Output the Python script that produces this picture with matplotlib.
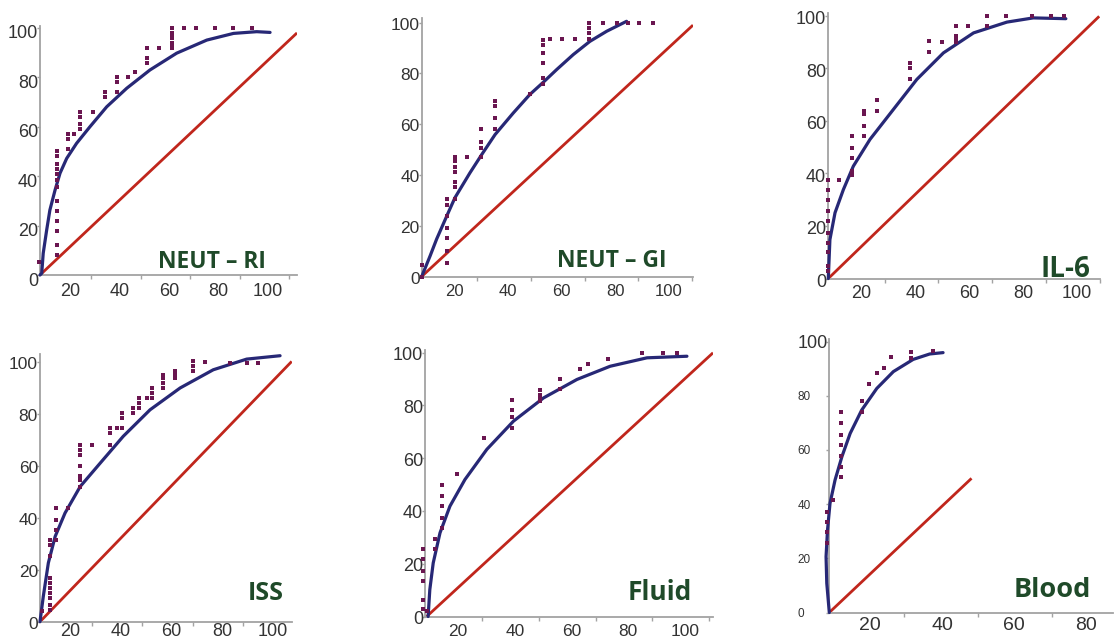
import matplotlib.pyplot as plt
import matplotlib.transforms as mtransforms

W, H = 1115, 642

# ---- data ----
titles = ["NEUT \u2013 RI", "NEUT \u2013 GI", "IL-6", "ISS", "Fluid", "Blood"]

# NEUT - RI
p1_dot_x = [7.3] + [14.4] * 13 + [19] * 3 + [21.5] + [24] * 4 + [29] + [34] * 2 + [39] * 3 + [43.5, 46] \
    + [51] * 3 + [56] + [61] * 7 + [66, 71, 78.5, 86, 93.5]
p1_dot_y = [5.3, 50, 48, 45, 43, 41, 38.5, 35.6, 30, 26, 22, 18, 12, 8, 57, 55, 51, 57, 66, 64, 61, 59, 66,
            74, 72, 80, 78, 74, 80, 82, 92, 88, 86, 92, 100, 98, 97, 96, 94, 93, 92, 100, 100, 100, 100, 100]
p1_fit_x = [7.7, 8.4, 9.0, 10.4, 11.7, 13.8, 15.8, 18.5, 22.5, 27.9, 34.7, 42.8, 52.2, 63, 75.2, 86, 95.4, 100.8]
p1_fit_y = [0, 0.7, 8.8, 18.2, 26.3, 34.4, 41.2, 47.2, 53.3, 60, 68.1, 75.6, 83, 89.8, 95.1, 97.8, 98.5, 98.2]
p1_ref_x = [7.7, 111.7]
p1_ref_y = [0, 98]

# NEUT - GI
p2_dot_x = [7.7, 7.7] + [17.3] * 7 + [20] * 7 + [24.6] + [30] * 4 + [35] * 4 + [48] + [53] * 6 \
    + [55.6, 60, 65] + [70] * 4 + [75.4, 80.6, 84.7, 89, 94]
p2_dot_y = [4.4, 0, 5.4, 10, 15, 19, 24, 28, 30.6, 30.7, 35.4, 37.4, 41, 43.3, 45.3, 46.9, 46.9,
            46.9, 50.8, 53, 58, 58, 62.6, 67, 69, 72, 76, 78, 84, 88, 91, 93, 93.7, 93.7, 93.7,
            93.7, 96, 98, 100, 100, 100, 100, 100, 100]
p2_fit_x = [7.9, 10.8, 13.3, 17.3, 20.1, 25.7, 30.1, 35.1, 41.9, 48.1, 52.9, 58.1, 64.3, 70.5, 76.8, 84.2]
p2_fit_y = [0.5, 8.0, 14.8, 24.4, 31, 40.8, 48, 55.9, 64.4, 71.7, 76.3, 81.5, 87.4, 92.6, 96.6, 100.5]
p2_ref_x = [7.7, 109]
p2_ref_y = [0, 99]

# IL-6
p3_dot_x = [7.6] * 10 + [11.7] + [16.3] * 5 + [21] * 4 + [25.6] * 2 + [37.8] * 3 + [44.9] * 2 + [49.9] \
    + [54.9] * 4 + [59.7] + [66.5] * 2 + [73.8, 83.4, 90.5, 95.2]
p3_dot_y = [37.6, 33.8, 30, 25.6, 21.8, 17.4, 13.6, 9.9, 4.7, 2.8, 37.6, 54, 49.7, 45.9, 41, 39.5,
            63.6, 62.4, 57.9, 54, 68, 63.6, 82, 80, 75.7, 90.2, 86, 90, 96.2, 92.4, 91.5, 89.8,
            96.2, 100, 96.2, 100, 100, 100, 100]
p3_fit_x = [7.6, 8.2, 10.1, 13.2, 16.9, 23.1, 31.8, 40.5, 50.4, 61.6, 74, 83.8, 95.9]
p3_fit_y = [0, 14.8, 25, 33.8, 42.7, 52.9, 64.3, 75.7, 85.8, 93.4, 97.5, 99.1, 98.8]
p3_ref_x = [7.6, 108.3]
p3_ref_y = [0, 99.7]

# ISS
p4_dot_x = [8.8] + [12.1] * 10 + [14.5] * 4 + [19.3] + [24] * 7 + [28.6] + [35.8] * 3 + [38.5] + [40.4] * 3 \
    + [45] * 2 + [47.4] * 3 + [50.3] + [52.3] * 3 + [56.9] * 4 + [61.5] * 3 + [68.7] * 3 + [73.4, 83.2, 89.8, 94.4]
p4_dot_y = [4, 4.6, 6.5, 9.1, 11, 13, 15, 16.8, 25.1, 29.6, 31.5, 31.5, 35.4, 39.2, 43.7, 43.7,
            52, 54.6, 55.9, 59.7, 64.2, 66.2, 68.1, 68.1, 68.1, 72.6, 74.5, 74.5, 74.5, 78.3, 80.3,
            80.3, 82.2, 82.2, 84.1, 86, 86, 86, 88, 89.9, 89.9, 91.8, 93.7, 95, 93.7, 95, 96.3,
            96.3, 98.2, 100.1, 100, 99.5, 99.5, 99.5]
p4_fit_x = [8.1, 9.4, 11.4, 14.1, 18, 24, 31.9, 41, 51.6, 63.5, 76.6, 89.8, 103]
p4_fit_y = [0, 9.7, 22.6, 32.8, 41.8, 52, 61, 71.3, 81.5, 89.9, 96.9, 101, 102.3]
p4_ref_x = [8.1, 107.6]
p4_ref_y = [0, 100.1]

# Fluid
p5_dot_x = [7.5] * 6 + [8.9] + [12] * 2 + [14.4] * 5 + [19.5, 29.2] + [38.9] * 4 + [48.7] * 4 + [56] * 2 \
    + [63, 65.7, 73, 85, 92.3, 97.2]
p5_dot_y = [25.4, 21.6, 17.2, 13.4, 6.4, 2.7, 2, 29.4, 25.4, 50, 45.6, 41.8, 37.4, 33.6, 53.8, 67.7,
            81.9, 78.4, 75.6, 71.5, 85.7, 84.1, 82.8, 81.6, 89.8, 86, 93.8, 95.7, 97.7, 99.9, 99.9, 99.9]
p5_fit_x = [9.4, 10, 11.2, 13.6, 17.1, 22.4, 30.1, 39.5, 50.1, 61.9, 73.6, 86.6, 100.7]
p5_fit_y = [0, 10.2, 20.3, 31.7, 41.8, 51.9, 63.3, 74, 82.8, 89.8, 94.8, 98, 98.6]
p5_ref_x = [8.9, 109.9]
p5_ref_y = [0, 99.9]

# Blood
p6_dot_x = [8.2] * 4 + [9.8] + [11.9] * 7 + [17.7] * 2 + [19.8, 21.9, 23.9, 25.7] + [31.5] * 2 + [37.4]
p6_dot_y = [25.5, 29.8, 33.5, 37.2, 41.5, 74.1, 69.8, 65.5, 61.8, 57.7, 53.8, 50.1, 78, 74.1,
            84.2, 88.3, 90.1, 94.4, 96.2, 93.8, 96.5]
p6_fit_x = [8.7, 8.0, 7.8, 8.2, 8.9, 10.3, 12.2, 14.5, 17.7, 21.9, 26.5, 32, 36.6, 40.3]
p6_fit_y = [0, 10.8, 20.6, 30.4, 40.3, 48.9, 57.5, 66.1, 74.7, 82.7, 88.9, 93.4, 95.4, 95.9]
p6_ref_x = [8.7, 48.2]
p6_ref_y = [0, 49.5]

x_labels_main = [20, 40, 60, 80, 100]
x_labels_blood = [20, 40, 60, 80]
y_labels = [0, 20, 40, 60, 80, 100]

# ---- layout (pixel boxes: left, right, bottom, top) ----
boxes = [(40, 297, 275, 25.5), (421.7, 693, 276.5, 17.5), (828.3, 1100, 278.5, 12.9),
         (40, 291.7, 621.7, 353.9), (425, 713.3, 616.5, 349.9), (829.3, 1113, 612.5, 338.8)]
xlims = [(7.7, 111.7), (7.7, 109), (7.6, 108.6), (8.1, 107.6), (8.3, 110), (8.7, 87.5)]
ylims = [(0, 101), (0, 102), (0, 101), (0, 103), (0, 101), (0, 101)]
title_pos = [(211.5, 268), (611.7, 266.7), (1065, 277.3), (265.8, 600), (660, 600), (1052.5, 596.7)]
title_size = [16.5, 16.5, 20, 18, 19, 19.5]
xlab_size = [13, 12, 13, 13, 12.5, 14]
ylab_size = [13, 12.5, 13, 12.5, 13, 8.5]
xlab_pad = [5.5, 5.5, 4.8, 0.9, 5.5, 3.1]
ylab_shift = [4, 1, 2, 1, 1, 0]

dots = [(p1_dot_x, p1_dot_y), (p2_dot_x, p2_dot_y), (p3_dot_x, p3_dot_y),
        (p4_dot_x, p4_dot_y), (p5_dot_x, p5_dot_y), (p6_dot_x, p6_dot_y)]
fits = [(p1_fit_x, p1_fit_y), (p2_fit_x, p2_fit_y), (p3_fit_x, p3_fit_y),
        (p4_fit_x, p4_fit_y), (p5_fit_x, p5_fit_y), (p6_fit_x, p6_fit_y)]
refs = [(p1_ref_x, p1_ref_y), (p2_ref_x, p2_ref_y), (p3_ref_x, p3_ref_y),
        (p4_ref_x, p4_ref_y), (p5_ref_x, p5_ref_y), (p6_ref_x, p6_ref_y)]

AXIS_GREY = "#a3a3a3"
LABEL_GREY = "#333333"
NAVY = "#272876"
RED = "#c0261c"
DOT = "#6a1650"
GREEN = "#1f4a29"

plt.rcParams["font.family"] = ["Liberation Sans", "DejaVu Sans"]

fig = plt.figure(figsize=(W / 100, H / 100), dpi=100)
fig.patch.set_facecolor("white")

for i in range(6):
    left, right, bottom, top = boxes[i]
    ax = fig.add_axes([left / W, (H - bottom) / H, (right - left) / W, (bottom - top) / H])
    ax.set_facecolor("none")
    ax.set_xlim(*xlims[i])
    ax.set_ylim(*ylims[i])

    ax.plot(refs[i][0], refs[i][1], color=RED, lw=2.0, solid_capstyle="butt", zorder=2)
    ax.plot(fits[i][0], fits[i][1], color=NAVY, lw=2.3, solid_capstyle="round",
            solid_joinstyle="round", clip_on=False, zorder=3)
    ax.scatter(dots[i][0], dots[i][1], marker="s", s=9, color=DOT, linewidths=0,
               clip_on=False, zorder=4)

    for side in ("top", "right"):
        ax.spines[side].set_visible(False)
    for side in ("left", "bottom"):
        ax.spines[side].set_color(AXIS_GREY)
        ax.spines[side].set_linewidth(1.3)

    xl = x_labels_blood if i == 5 else x_labels_main
    ax.set_xticks(xl)
    ax.set_xticklabels([str(v) for v in xl])
    marks = [29.5, 50, 70.5] if i == 5 else [28.5, 48.5, 68.5, 88.5, 108.5]
    ax.set_xticks([m for m in marks if m < xlims[i][1]], minor=True)
    ax.tick_params(axis="x", which="major", length=0, pad=xlab_pad[i],
                   labelsize=xlab_size[i], labelcolor=LABEL_GREY)
    ax.tick_params(axis="x", which="minor", length=3, width=1, color=AXIS_GREY, direction="out")

    ax.set_yticks(y_labels)
    ax.set_yticklabels([str(v) for v in y_labels])
    if i == 5:
        ax.tick_params(axis="y", length=2, width=1, color=AXIS_GREY, pad=21,
                       labelsize=ylab_size[i], labelcolor=LABEL_GREY)
        for lab in ax.get_yticklabels():
            lab.set_horizontalalignment("left")
        ax.get_yticklabels()[-1].set_fontsize(13)
    else:
        ax.tick_params(axis="y", length=2, width=1, color=AXIS_GREY, pad=-0.5,
                       labelsize=ylab_size[i], labelcolor=LABEL_GREY)

    shift = mtransforms.ScaledTranslation(0, -ylab_shift[i] / 100, fig.dpi_scale_trans)
    for lab in ax.get_yticklabels():
        lab.set_transform(lab.get_transform() + shift)

    tx, ty = title_pos[i]
    fig.text(tx / W, (H - ty) / H, titles[i], ha="center", va="baseline",
             fontsize=title_size[i], fontweight="bold", color=GREEN,
             family=["Open Sans", "DejaVu Sans"])

fig.savefig("out.png", dpi=100, facecolor="white")
